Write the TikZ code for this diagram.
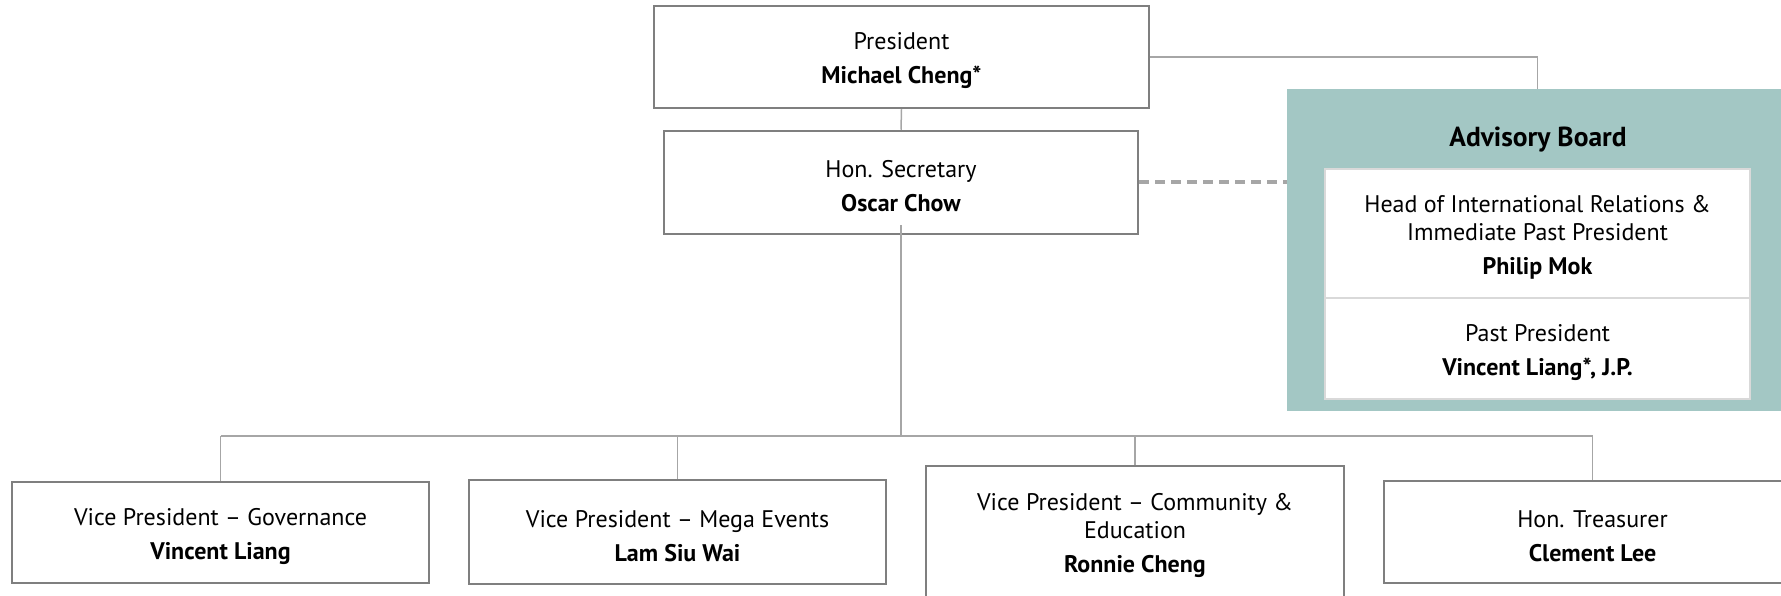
\documentclass[tikz,border=0pt]{standalone}
\usepackage{fontspec}
\setmainfont{PT Sans}
\definecolor{boxgray}{HTML}{7F7F7F}
\definecolor{linegray}{HTML}{A6A6A6}
\definecolor{teal}{HTML}{A3C7C4}
\definecolor{innergray}{HTML}{D9D9D9}
\newcommand{\rolefont}{\fontsize{24}{28}\selectfont}
\newcommand{\titlefont}{\fontsize{27.5}{30}\selectfont\bfseries}
\newcommand{\topstrut}{\rule{0pt}{25pt}}
\begin{document}
\begin{tikzpicture}[x=1pt,y=-1pt,
  box/.style={draw=boxgray, line width=2.5pt, fill=white, align=center, inner sep=0pt, font=\rolefont},
  inner/.style={draw=innergray, line width=2pt, fill=white, align=center, inner sep=0pt, font=\rolefont, minimum width=425pt},
  conn/.style={draw=linegray, line width=1.5pt},
  dashline/.style={draw=linegray, line width=4pt, dash pattern=on 10pt off 6pt}]
\useasboundingbox (0,0) rectangle (1781,596);
% top boxes
\node[box, minimum width=495pt, minimum height=102pt] (pres) at (901.5,57) {\topstrut President\\[6pt]\textbf{Michael Cheng*}};
\node[box, minimum width=474pt, minimum height=103pt] (sec) at (901,182.5) {\topstrut Hon. Secretary\\[6pt]\textbf{Oscar Chow}};
% advisory board
\node[fill=teal, minimum width=501pt, minimum height=322pt, inner sep=0pt] (adv) at (1537.5,250) {};
\node[font=\titlefont] (advtitle) at (1538,140) {Advisory Board};
\node[inner, minimum height=129pt] (ir) at (1537.5,233.5) {\topstrut Head of International Relations \&\\Immediate Past President\\[6pt]\textbf{Philip Mok}};
\node[inner, minimum height=101pt] (pp) at (1537.5,348.5) {\topstrut Past President\\[6pt]\textbf{Vincent Liang*, J.P.}};
% bottom boxes
\node[box, minimum width=417pt, minimum height=101pt] (gov) at (220.5,532.5) {\topstrut Vice President – Governance\\[6pt]\textbf{Vincent Liang}};
\node[box, minimum width=417pt, minimum height=104pt] (mega) at (677.5,532) {\topstrut Vice President – Mega Events\\[6pt]\textbf{Lam Siu Wai}};
\node[box, minimum width=418pt, minimum height=132pt] (comm) at (1135,532) {\topstrut Vice President – Community \&\\Education\\[6pt]\textbf{Ronnie Cheng}};
\node[box, minimum width=417pt, minimum height=102pt] (treas) at (1592.5,532) {\topstrut Hon. Treasurer\\[6pt]\textbf{Clement Lee}};
% connectors
\coordinate (bus) at (901,436);
\draw[conn] (pres.south) -- (sec.north);
\draw[conn] (pres.east) -| (adv.north);
\draw[dashline] (sec.east) -- (sec.east -| adv.west);
\draw[conn] ([yshift=10pt]sec.south) -- (bus);
\draw[conn] (gov.north |- bus) -- (treas.north |- bus);
\draw[conn] (gov.north |- bus) -- (gov.north);
\draw[conn] (mega.north |- bus) -- (mega.north);
\draw[conn] (comm.north |- bus) -- (comm.north);
\draw[conn] (treas.north |- bus) -- (treas.north);
\end{tikzpicture}
\end{document}
